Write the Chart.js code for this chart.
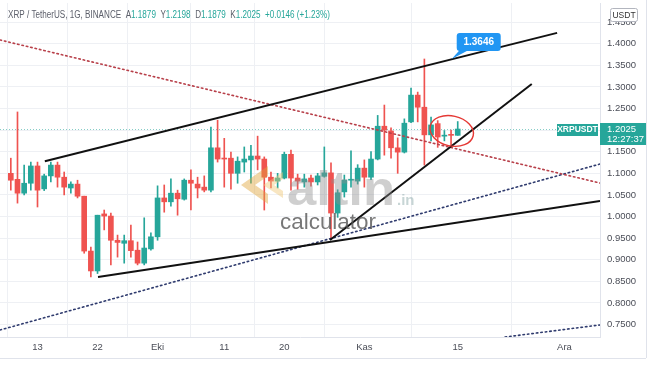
<!DOCTYPE html>
<html><head><meta charset="utf-8">
<script src="https://cdn.jsdelivr.net/npm/chart.js@4.4.0/dist/chart.umd.min.js"></script>
<style>html,body{margin:0;padding:0;background:#fff;}canvas{display:block;}</style>
</head><body>
<canvas id="c" width="654" height="366"></canvas>
<script>
// ---- DATA ----
const dayIndex = [-4,-3,-2,-1,0,1,2,3,4,5,6,7,8,9,10,11,12,13,14,15,16,17,18,19,20,21,22,23,24,25,26,27,28,29,30,31,32,33,34,35,36,37,38,39,40,41,42,43,44,45,46,47,48,49,50,51,52,53,54,55,56,57,58,59,60,61,62,63];
const openP  = [1.100,1.086,1.054,1.077,1.117,1.064,1.094,1.119,1.091,1.066,1.075,1.047,0.920,0.874,1.006,1.001,0.945,0.938,0.944,0.922,0.892,0.925,0.953,1.043,1.034,1.054,1.040,1.084,1.075,1.068,1.061,1.159,1.135,1.135,1.100,1.126,1.131,1.140,1.133,1.091,1.082,1.089,1.144,1.089,1.080,1.089,1.080,1.093,1.101,1.008,1.057,1.084,1.082,1.112,1.091,1.133,1.209,1.198,1.159,1.149,1.219,1.281,1.253,1.189,1.215,1.186,1.188,1.1879];
const highP  = [1.135,1.242,1.119,1.126,1.126,1.098,1.126,1.126,1.103,1.080,1.084,1.047,0.929,1.003,1.015,1.008,0.957,0.957,0.980,0.941,0.997,0.962,1.071,1.073,1.087,1.061,1.087,1.108,1.091,1.094,1.207,1.223,1.181,1.149,1.138,1.161,1.165,1.186,1.138,1.103,1.100,1.149,1.154,1.098,1.098,1.096,1.100,1.161,1.124,1.062,1.096,1.152,1.120,1.131,1.150,1.234,1.258,1.205,1.182,1.226,1.297,1.288,1.3646,1.230,1.222,1.199,1.200,1.2198];
const lowP   = [1.061,1.031,1.050,1.061,1.022,1.060,1.080,1.068,1.050,1.054,1.043,0.915,0.860,0.868,0.969,0.888,0.906,0.892,0.906,0.888,0.888,0.922,0.945,1.010,1.024,1.003,1.038,1.015,1.043,1.057,1.057,1.126,1.068,1.063,1.077,1.103,1.077,1.108,1.015,1.066,1.066,1.087,1.061,1.063,1.068,1.070,1.073,1.091,0.947,0.998,1.045,1.068,1.075,1.068,1.085,1.131,1.142,1.135,1.100,1.147,1.217,1.219,1.119,1.175,1.160,1.175,1.165,1.1879];
const closeP = [1.084,1.054,1.077,1.117,1.061,1.094,1.119,1.091,1.068,1.075,1.047,0.920,0.874,1.003,1.001,0.945,0.940,0.944,0.921,0.892,0.927,0.953,1.043,1.034,1.054,1.041,1.084,1.077,1.066,1.061,1.159,1.133,1.133,1.100,1.128,1.133,1.140,1.133,1.091,1.082,1.089,1.144,1.089,1.082,1.087,1.080,1.094,1.101,1.008,1.055,1.084,1.086,1.112,1.091,1.133,1.209,1.200,1.159,1.149,1.216,1.281,1.253,1.189,1.212,1.184,1.188,1.1879,1.2025];

const timeTickDays   = [0, 9, 18, 28, 37, 49, 63, 79];
const timeTickLabels = ['13','22','Eki','11','20','Kas','15','Ara'];
const priceTicks = [0.75,0.80,0.85,0.90,0.95,1.00,1.05,1.10,1.15,1.20,1.25,1.30,1.35,1.40,1.45];

// trend lines: [day, price] anchor points
const upperChannel  = [{x:1.1, y:1.128}, {x:77.9, y:1.425}];
const lowerChannel  = [{x:9.07, y:0.860}, {x:84.33, y:1.036}];
const risingLine    = [{x:43.85, y:0.9456}, {x:74.1, y:1.3067}];
const redDotted     = [{x:-5.62, y:1.4086}, {x:84.33, y:1.0775}];
const blueDotted    = [{x:-5.62, y:0.7373}, {x:84.33, y:1.1215}];
const blueDotted2   = [{x:70.1, y:0.721}, {x:84.33, y:0.749}];

const calloutPoint = {x:62.1, y:1.3646};
const ellipseCenter = {x:62.1, y:1.198};
const symbolTitle = 'XRP / TetherUS, 1G, BINANCE';
const tickerName = 'XRPUSDT';
const quoteUnit = 'USDT';
const countdown = '12:27:37';

// ---- STYLE ----
const UP = '#26a69a', DOWN = '#ef5350';
const FONT = "'Liberation Sans Narrow','Liberation Sans', Arial, sans-serif";

const bodyData = dayIndex.map((d,i)=>({x:d, y:[Math.min(openP[i],closeP[i]), Math.max(openP[i],closeP[i])]}));
const wickData = dayIndex.map((d,i)=>({x:d, y:[lowP[i], highP[i]]}));
const candleColors = dayIndex.map((d,i)=> closeP[i] >= openP[i] ? UP : DOWN);

function lineDs(data, color, width, dash){
  return {type:'line', data, borderColor:color, borderWidth:width, borderDash:dash||[], pointRadius:0,
    fill:false, tension:0, order:0, borderCapStyle: dash ? 'round' : 'butt'};
}

const overlay = {
  id:'overlay',
  beforeDatasetsDraw(chart){
    const {ctx, chartArea:a, scales:{y}} = chart;
    const last = closeP[closeP.length-1];
    const py = Math.round(y.getPixelForValue(last)) + 0.5;
    ctx.save();
    ctx.strokeStyle = 'rgba(38,166,154,0.55)';
    ctx.lineWidth = 1;
    ctx.setLineDash([1,2]);
    ctx.beginPath(); ctx.moveTo(a.left, py); ctx.lineTo(a.right, py); ctx.stroke();
    ctx.restore();
  },
  afterDatasetsDraw(chart){
    const {ctx, scales:{x, y}} = chart;
    ctx.save();
    // watermark logo
    ctx.globalAlpha = 0.45;
    ctx.fillStyle = '#e0a43a';
    ctx.beginPath();
    ctx.moveTo(268,166); ctx.lineTo(241,185); ctx.lineTo(268,204); ctx.lineTo(268,194);
    ctx.lineTo(255,185); ctx.lineTo(268,176); ctx.closePath(); ctx.fill();
    ctx.fillStyle = '#f0c878';
    ctx.beginPath();
    ctx.moveTo(283,172); ctx.lineTo(263,185); ctx.lineTo(283,198); ctx.lineTo(283,191);
    ctx.lineTo(274,185); ctx.lineTo(283,179); ctx.closePath(); ctx.fill();
    ctx.globalAlpha = 0.42;
    ctx.fillStyle = '#8c8c8c';
    ctx.font = "bold 48px 'Liberation Sans', Arial, sans-serif";
    ctx.textBaseline = 'alphabetic';
    let w = ctx.measureText('altın').width;
    ctx.save(); ctx.translate(287, 205); ctx.scale(108 / w, 1); ctx.fillText('altın', 0, 0); ctx.restore();
    ctx.font = "bold 15px 'Liberation Sans', Arial, sans-serif";
    ctx.fillStyle = '#7a9a9a';
    ctx.fillText('.in', 397, 205);
    ctx.globalAlpha = 0.8;
    ctx.fillStyle = '#555';
    ctx.font = "22px 'Liberation Sans', Arial, sans-serif";
    w = ctx.measureText('calculator').width;
    ctx.save(); ctx.translate(280, 229); ctx.scale(96 / w, 1); ctx.fillText('calculator', 0, 0); ctx.restore();
    ctx.restore();

    // ellipse
    const ex = x.getPixelForValue(ellipseCenter.x), ey = y.getPixelForValue(ellipseCenter.y);
    ctx.save();
    ctx.strokeStyle = '#e53935'; ctx.lineWidth = 1.4;
    ctx.beginPath(); ctx.ellipse(ex, ey, 22, 15, 0.22, 0, Math.PI*2); ctx.stroke();
    ctx.restore();

    // callout
    const tx = x.getPixelForValue(calloutPoint.x), ty = y.getPixelForValue(calloutPoint.y);
    const bx = tx + 5, by = ty - 26, bw = 44, bh = 18;
    ctx.save();
    ctx.fillStyle = '#2196f3';
    ctx.beginPath();
    ctx.roundRect(bx, by, bw, bh, 3); ctx.fill();
    ctx.beginPath(); ctx.moveTo(bx + 3, by + bh - 1); ctx.lineTo(bx + 12, by + bh - 1); ctx.lineTo(tx, ty); ctx.closePath(); ctx.fill();
    ctx.fillStyle = '#fff';
    ctx.font = "bold 10px 'Liberation Sans', Arial, sans-serif";
    ctx.textAlign = 'center'; ctx.textBaseline = 'middle';
    ctx.fillText(calloutPoint.y.toFixed(4), bx + bw/2, by + bh/2 + 0.5);
    ctx.restore();
  },
  afterDraw(chart){
    const {ctx, chartArea:a, scales:{y}} = chart;
    ctx.save();
    // frame
    ctx.strokeStyle = '#e0e3eb'; ctx.lineWidth = 1;
    ctx.beginPath(); ctx.moveTo(646.5, 0); ctx.lineTo(646.5, 358); ctx.stroke();
    ctx.beginPath(); ctx.moveTo(0, 358.5); ctx.lineTo(646, 358.5); ctx.stroke();

    // header
    const n = closeP.length;
    const chg = closeP[n-1] - closeP[n-2];
    const pct = chg / closeP[n-2] * 100;
    const sgn = v => (v >= 0 ? '+' : '') ;
    const segs = [
      [symbolTitle + '  ', '#5d606b'], ['A', '#5d606b'], [openP[n-1].toFixed(4), UP],
      ['  Y', '#5d606b'], [highP[n-1].toFixed(4), UP],
      ['  D', '#5d606b'], [lowP[n-1].toFixed(4), UP],
      ['  K', '#5d606b'], [closeP[n-1].toFixed(4), UP],
      ['  ' + sgn(chg) + chg.toFixed(4) + ' (' + sgn(pct) + pct.toFixed(2) + '%)', UP]
    ];
    ctx.font = "10px " + FONT;
    ctx.textBaseline = 'middle';
    let total = 0; segs.forEach(s => total += ctx.measureText(s[0]).width);
    ctx.save(); ctx.translate(8, 15); ctx.scale(322 / total, 1);
    let cx = 0;
    segs.forEach(s => { ctx.fillStyle = s[1]; ctx.fillText(s[0], cx, 0); cx += ctx.measureText(s[0]).width; });
    ctx.restore();

    // USDT box
    ctx.fillStyle = '#fff'; ctx.strokeStyle = '#b2b5be';
    ctx.beginPath(); ctx.roundRect(610.5, 8.5, 27, 13, 2); ctx.fill(); ctx.stroke();
    ctx.fillStyle = '#333'; ctx.font = "8.5px " + FONT; ctx.textAlign = 'center';
    ctx.fillText(quoteUnit, 624, 15.5);

    // price labels
    const last = closeP[n-1];
    const py = Math.round(y.getPixelForValue(last));
    ctx.fillStyle = UP;
    ctx.fillRect(557, py - 5, 41, 12);
    ctx.fillRect(600, py - 6, 46, 22);
    ctx.fillStyle = '#fff';
    ctx.font = "bold 8.5px " + FONT; ctx.textAlign = 'center';
    ctx.fillText(tickerName, 577.5, py + 1);
    ctx.font = "9.5px " + FONT; ctx.textAlign = 'left';
    ctx.fillText(last.toFixed(4), 607, py + 0.5);
    ctx.fillText(countdown, 607, py + 10.5);
    ctx.restore();
  }
};

new Chart(document.getElementById('c'), {
  type: 'bar',
  data: {
    datasets: [
      lineDs(upperChannel, '#111', 2),
      lineDs(lowerChannel, '#111', 2),
      lineDs(risingLine, '#111', 2),
      lineDs(redDotted, '#b8404a', 1.6, [1.5,3]),
      lineDs(blueDotted, '#2f3b6e', 1.6, [1.5,3]),
      lineDs(blueDotted2, '#2f3b6e', 1.6, [1.5,3]),
      {type:'bar', data: bodyData, backgroundColor: candleColors, barThickness: 5, grouped:false, minBarLength:1, borderWidth:0, order:5},
      {type:'bar', data: wickData, backgroundColor: candleColors, barThickness: 1, grouped:false, borderWidth:0, order:6}
    ]
  },
  options: {
    responsive: false,
    devicePixelRatio: 1,
    animation: false,
    layout: {padding: {left:0, top:3, right:8, bottom:8}},
    plugins: {legend:{display:false}, tooltip:{enabled:false}},
    scales: {
      x: {
        type:'linear', min:-5.622, max:84.33, offset:false,
        afterBuildTicks: s => { s.ticks = timeTickDays.map(v => ({value:v})); },
        afterFit: s => { s.height = 21; s.paddingLeft = 0; s.paddingRight = 0; },
        ticks: {autoSkip:false, maxRotation:0, padding:5, color:'#4a4d57', font:{size:9.5, family:FONT},
          callback: v => timeTickLabels[timeTickDays.indexOf(v)] ?? ''},
        grid: {color:'#eef0f4', drawTicks:false},
        border: {color:'#e0e3eb'}
      },
      y: {
        type:'linear', position:'right', min:0.7211, max:1.4942,
        afterBuildTicks: s => { s.ticks = priceTicks.map(v => ({value:v})); },
        afterFit: s => { s.width = 46; s.paddingTop = 0; s.paddingBottom = 0; },
        ticks: {padding:7, color:'#4a4d57', font:{size:9.5, family:FONT}, callback: v => Number(v).toFixed(4)},
        grid: {color:'#eef0f4', drawTicks:false},
        border: {color:'#e0e3eb'}
      }
    }
  },
  plugins: [overlay]
});
</script>
</body></html>
